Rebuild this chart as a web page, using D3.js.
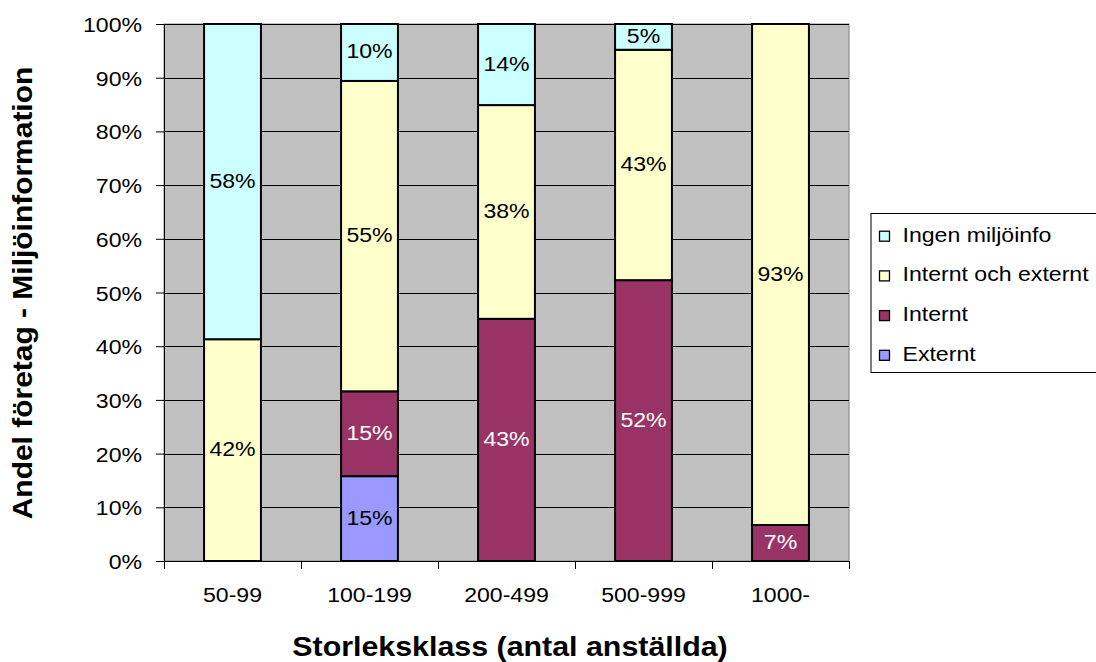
<!DOCTYPE html>
<html><head><meta charset="utf-8">
<script src="https://cdn.jsdelivr.net/npm/d3@7"></script>
<style>body{margin:0;background:#fff}svg{display:block}text{font-family:"Liberation Sans",Arial,sans-serif}</style>
</head><body><svg id="c" width="1096" height="662"></svg>
<script>
const categories = ["50-99","100-199","200-499","500-999","1000-"];
const seriesNames = ["Externt","Internt","Internt och externt","Ingen miljöinfo"];
const externt = [0, 0.158, 0, 0, 0];
const internt = [0, 0.158, 0.451, 0.523, 0.067];
const internOchExtern = [0.413, 0.578, 0.398, 0.429, 0.933];
const ingen = [0.587, 0.106, 0.151, 0.048, 0];
const labelsExternt = ["", "15%", "", "", ""];
const labelsInternt = ["", "15%", "43%", "52%", "7%"];
const labelsIochE = ["42%", "55%", "38%", "43%", "93%"];
const labelsIngen = ["58%", "10%", "14%", "5%", ""];
const yTicks = [0,0.1,0.2,0.3,0.4,0.5,0.6,0.7,0.8,0.9,1];

const colors = ["#9999FF","#993366","#FFFFCC","#CCFFFF"];
const textColors = ["#000","#fff","#000","#000"];
const series = [externt, internt, internOchExtern, ingen];
const labels = [labelsExternt, labelsInternt, labelsIochE, labelsIngen];

const SX = 1.1; // wider glyph metrics of the original rendering
const svg = d3.select("#c");
const L=164, R=849, T=24, B=561;
const x = d3.scaleBand().domain(categories).range([L,R]).paddingInner(0.585).paddingOuter(0.2925);
const y = d3.scaleLinear().domain([0,1]).range([B,T]);

function stext(parent, px, py, str, opts){
  const g = parent.append("g").attr("transform",`translate(${px},${py}) scale(${opts.sx||SX},1)`);
  return g.append("text").attr("x",0).attr("y",0)
    .attr("text-anchor",opts.anchor||"middle").attr("font-size",opts.size||21)
    .attr("font-weight",opts.weight||"normal").attr("fill",opts.fill||"#000").text(str);
}

svg.append("rect").attr("x",L).attr("y",T).attr("width",R-L).attr("height",B-T).attr("fill","#C0C0C0").attr("stroke","#808080").attr("stroke-width",1);
svg.append("g").selectAll("line").data(yTicks.slice(1)).join("line")
  .attr("x1",L).attr("x2",R).attr("y1",d=>Math.round(y(d))+0.5).attr("y2",d=>Math.round(y(d))+0.5).attr("stroke","#000").attr("stroke-width",1);

const yAxis = svg.append("g").attr("transform",`translate(${L},0)`)
  .call(d3.axisLeft(y).tickValues(yTicks).tickFormat(d3.format(".0%")).tickSize(8).tickPadding(14));
yAxis.select(".domain").attr("stroke","#000");
yAxis.selectAll(".tick line").attr("stroke","#000");
yAxis.selectAll("text").attr("font-size",21).attr("fill","#000").attr("font-family","Liberation Sans, Arial")
  .attr("x",-22/SX).attr("dy","0.36em").attr("transform",`scale(${SX},1)`);

// x axis
const xa = svg.append("g");
xa.append("line").attr("x1",L).attr("x2",R).attr("y1",B+0.5).attr("y2",B+0.5).attr("stroke","#000");
const bounds = d3.range(categories.length+1).map(i=>L+i*(R-L)/categories.length);
xa.selectAll("line.t").data(bounds).join("line").attr("class","t")
  .attr("x1",d=>Math.round(d)+0.5).attr("x2",d=>Math.round(d)+0.5).attr("y1",B).attr("y2",B+8).attr("stroke","#000");
categories.forEach(c=>stext(xa, x(c)+x.bandwidth()/2, 602, c, {}));

// bars
categories.forEach((c,i)=>{
  let acc=0;
  series.forEach((s,k)=>{
    const v=s[i];
    if(v>0){
      const y0=y(acc), y1=y(acc+v);
      svg.append("rect").attr("x",x(c)).attr("y",y1).attr("width",x.bandwidth()).attr("height",y0-y1)
        .attr("fill",colors[k]).attr("stroke","#000").attr("stroke-width",2);
      if(labels[k][i]) stext(svg, x(c)+x.bandwidth()/2, (y0+y1)/2+6, labels[k][i], {fill:textColors[k]});
    }
    acc+=v;
  });
});

// titles
stext(svg, 510, 656, "Storleksklass (antal anställda)", {size:28, weight:"bold", sx:1.085});
svg.append("g").attr("transform","translate(32,293) rotate(-90) scale(1.07,1)")
  .append("text").attr("text-anchor","middle").attr("font-size",28).attr("font-weight","bold").text("Andel företag - Miljöinformation");

// legend
const lg = svg.append("g");
lg.append("rect").attr("x",871).attr("y",213.5).attr("width",240).attr("height",159).attr("fill","#fff").attr("stroke","#000");
const legendOrder=[3,2,1,0];
legendOrder.forEach((k,j)=>{
  const yy=241.7+j*39.7;
  lg.append("rect").attr("x",879.5).attr("y",yy-10.5).attr("width",10).attr("height",10).attr("fill",colors[k]).attr("stroke","#000").attr("stroke-width",1.3);
  stext(lg, 902.5, yy, seriesNames[k], {anchor:"start"});
});
</script></body></html>
